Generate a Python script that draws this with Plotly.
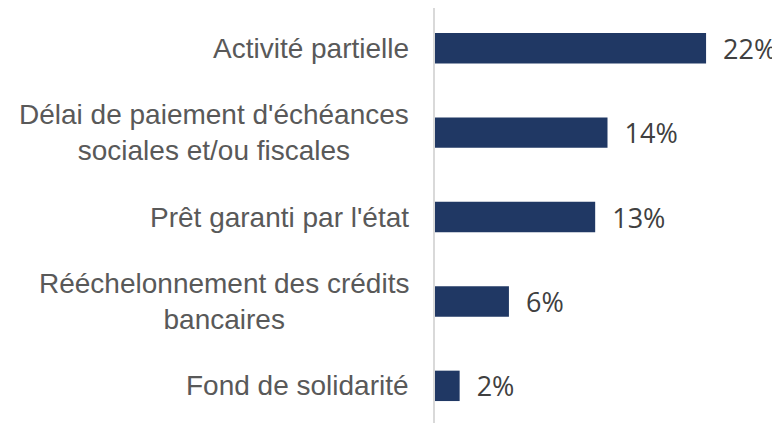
import plotly.graph_objects as go

categories = [
    "Activité partielle",
    "Délai de paiement d'échéances<br>sociales et/ou fiscales",
    "Prêt garanti par l'état",
    "Rééchelonnement des crédits<br>bancaires",
    "Fond de solidarité",
]
values = [22, 14, 13, 6, 2]
value_labels = ["22%", "14%", "13%", "6%", "2%"]

fig = go.Figure()
fig.add_trace(go.Bar(
    y=categories, x=values, orientation="h",
    marker=dict(color="#203864", line=dict(width=0)),
    width=0.36,
    text=["\u00a0\u00a0" + t for t in value_labels],
    textposition="outside",
    textfont=dict(family="Open Sans", size=27, color="#404040"),
    constraintext="none",
    cliponaxis=False,
    hoverinfo="skip",
))

# category labels as annotations so multi-line labels are centred
for c in categories:
    fig.add_annotation(
        x=0, y=c, xref="x", yref="y", text=c, showarrow=False,
        xanchor="right", yanchor="middle", align="center", xshift=-24,
        font=dict(family="Liberation Sans, Arial", size=28, color="#595959"),
    )

# page body has an 8px margin, so the figure is sized to fit the window
fig.update_layout(
    width=772, height=415,
    margin=dict(l=427, r=0, t=0, b=0),
    plot_bgcolor="white", paper_bgcolor="white",
    showlegend=False,
    xaxis=dict(range=[0, 28], visible=False),
    yaxis=dict(
        categoryorder="array", categoryarray=categories,
        range=[4.44, -0.476], showticklabels=False, ticks="",
        showgrid=False, zeroline=False,
        showline=True, linecolor="#d9d9d9", linewidth=1.5,
    ),
)

fig.write_html("out.html")
